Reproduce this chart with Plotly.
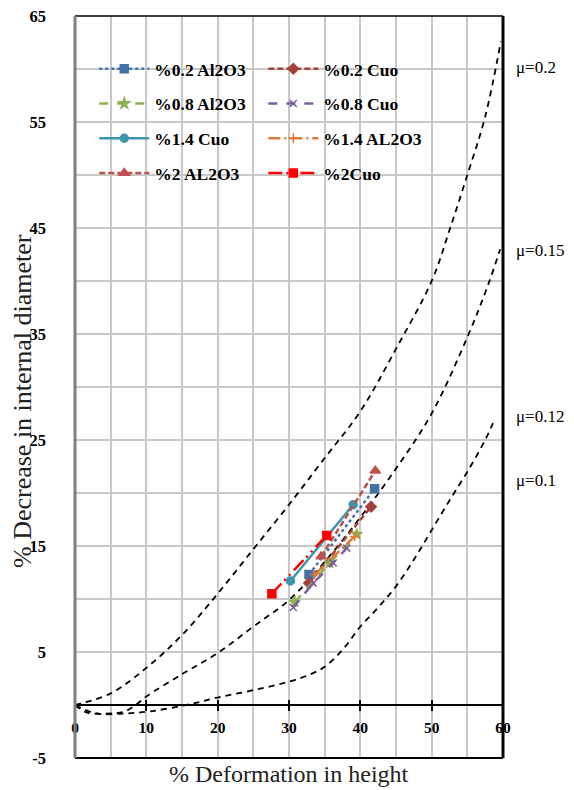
import plotly.graph_objects as go

# ---- friction (mu) reference curves ----
mu02_x = [0, 5, 10, 15, 20, 25, 30, 35, 40, 45, 50, 52.5, 55, 57.5, 59.7]
mu02_y = [0, 1.1, 3.5, 6.6, 10.5, 14.7, 18.9, 23.3, 27.7, 33.6, 40.0, 44.8, 50.0, 55.5, 62.6]

mu015_x = [0, 1.6, 5, 7, 8.5, 10, 15, 20, 25, 30, 35, 40, 45, 50, 55, 58, 59.6]
mu015_y = [0, -0.7, -0.8, -0.6, 0, 0.8, 2.9, 4.9, 7.4, 9.9, 13.5, 17.7, 22.3, 27.5, 34.7, 39.8, 43.0]

mu012_x = [0, 3, 7, 10.5, 15.6, 20, 25, 30, 33, 35, 37.5, 40, 42.5, 45, 47.5, 50, 52.5, 55, 57.5, 58.6]
mu012_y = [0, -0.8, -0.8, -0.6, 0, 0.7, 1.4, 2.2, 2.9, 3.6, 5.2, 7.4, 9.2, 11.2, 13.7, 16.5, 19.3, 22.0, 25.0, 26.6]

mu_labels = ["μ=0.2", "μ=0.15", "μ=0.12", "μ=0.1"]
mu_label_y = [60.1, 42.9, 27.2, 21.2]

# ---- experimental series ----
s_02al_x = [32.8, 42.0]
s_02al_y = [12.3, 20.4]
s_02cu_x = [32.8, 41.5]
s_02cu_y = [11.5, 18.7]
s_08al_x = [30.8, 35.7, 39.5]
s_08al_y = [9.7, 13.4, 16.1]
s_08cu_x = [30.6, 33.4, 36.2, 38.1]
s_08cu_y = [9.2, 11.5, 13.4, 14.8]
s_14cu_x = [30.2, 39.0]
s_14cu_y = [11.7, 18.9]
s_14al_x = [33.6, 39.2]
s_14al_y = [12.3, 15.9]
s_2al_x = [34.5, 42.1]
s_2al_y = [14.0, 22.1]
s_2cu_x = [27.6, 35.3]
s_2cu_y = [10.5, 16.0]

x_ticks = [0, 10, 20, 30, 40, 50, 60]
y_ticks = [-5, 5, 15, 25, 35, 45, 55, 65]

SERIF = "Liberation Serif"
fig = go.Figure()

for cx, cy in [(mu02_x, mu02_y), (mu015_x, mu015_y), (mu012_x, mu012_y)]:
    fig.add_trace(go.Scatter(x=cx, y=cy, mode="lines", line=dict(color="black", width=1.8, dash="6px,5px"),
                             line_shape="spline", showlegend=False, hoverinfo="skip"))

series = [
    ("%0.2 Al2O3", s_02al_x, s_02al_y, "#4472A8", "dot", "square", 8, "legend"),
    ("%0.2 Cuo", s_02cu_x, s_02cu_y, "#A5403C", "6px,3px", "diamond", 8, "legend2"),
    ("%0.8 Al2O3", s_08al_x, s_08al_y, "#8FB04E", "9px,9px", "star", 8, "legend"),
    ("%0.8 Cuo", s_08cu_x, s_08cu_y, "#7B5EA0", "9px,9px", "x-thin-open", 7, "legend2"),
    ("%1.4 Cuo", s_14cu_x, s_14cu_y, "#3C96AE", "solid", "circle", 8, "legend"),
    ("%1.4 AL2O3", s_14al_x, s_14al_y, "#E07B35", "12px,4px,2px,4px", "cross-thin-open", 7, "legend2"),
    ("%2 AL2O3", s_2al_x, s_2al_y, "#C0504D", "6px,3px", "triangle-up", 9, "legend"),
    ("%2Cuo", s_2cu_x, s_2cu_y, "#FF0000", "14px,4px,2px,5px,2px,5px", "square", 8, "legend2"),
]
for i, (name, sx, sy, col, dash, sym, msz, lg) in enumerate(series):
    fig.add_trace(go.Scatter(
        x=sx, y=sy, mode="lines+markers", name=name, legend=lg, legendgroup=name,
        line=dict(color=col, width=2.5, dash=dash),
        marker=dict(symbol=sym, size=msz, color=col, line=dict(color=col, width=1.5)),
    ))

for lab, ly in zip(mu_labels, mu_label_y):
    fig.add_annotation(x=1.025, xref="paper", y=ly, yref="y", text=lab, showarrow=False,
                       xanchor="left", yanchor="middle", font=dict(family=SERIF, size=17, color="black"))

fig.add_annotation(x=0.5, xref="paper", y=-0.022, yref="paper", text="% Deformation in height", showarrow=False,
                   xanchor="center", yanchor="middle", font=dict(family=SERIF, size=24, color="#222"))
fig.add_annotation(x=-0.124, xref="paper", y=0.481, yref="paper", text="% Decrease in internal diameter", showarrow=False,
                   textangle=-90, xanchor="center", yanchor="middle", font=dict(family=SERIF, size=26, color="#222"))

# plot border
fig.add_shape(type="line", xref="paper", yref="paper", x0=0, x1=1, y0=1, y1=1, line=dict(color="black", width=1.5))
fig.add_shape(type="line", xref="paper", yref="paper", x0=1, x1=1, y0=0, y1=1, line=dict(color="black", width=3))
fig.add_shape(type="line", xref="paper", yref="paper", x0=0, x1=1, y0=0, y1=0, line=dict(color="black", width=2))
fig.add_shape(type="line", xref="paper", yref="paper", x0=0, x1=0, y0=0, y1=1, line=dict(color="#7F7F7F", width=3))

grid = "#C8C8C8"
legfont = dict(family=SERIF, size=17.5, color="black", weight="bold")
# the page body has an 8px default margin, so the figure is sized 8px smaller
fig.update_layout(
    width=566, height=782, paper_bgcolor="white", plot_bgcolor="white",
    margin=dict(l=67, r=71, t=8, b=32, autoexpand=False),
    xaxis=dict(range=[0, 60], tickvals=x_ticks, ticktext=[str(v) for v in x_ticks], automargin=False,
               anchor="free", position=5 / 70, showline=True, linecolor="black", linewidth=1.5,
               ticks="outside", ticklen=5, tickwidth=1.5, tickcolor="black", ticklabelstandoff=4,
               ticklabeloverflow="allow",
               showgrid=True, gridcolor=grid, gridwidth=1.5, zeroline=False,
               minor=dict(dtick=5, tick0=0, showgrid=True, gridcolor=grid, gridwidth=1.5),
               tickfont=dict(family=SERIF, size=15.5, color="black", weight="bold")),
    xaxis2=dict(range=[0, 60], overlaying="x", anchor="free", position=5 / 70, tickvals=x_ticks,
                showticklabels=False, ticks="inside", ticklen=5, tickwidth=1.5, tickcolor="black",
                showgrid=False, showline=False, zeroline=False, automargin=False),
    yaxis=dict(range=[-5, 65], tickvals=y_ticks, ticktext=[str(v) for v in y_ticks], automargin=False,
               showgrid=True, gridcolor=grid, gridwidth=1.5, zeroline=False, showline=False,
               minor=dict(dtick=5, tick0=0, showgrid=True, gridcolor=grid, gridwidth=1.5),
               ticks="", ticklabelstandoff=28, ticklabeloverflow="allow",
               tickfont=dict(family=SERIF, size=16.5, color="black", weight="bold")),
    legend=dict(x=0.045, y=0.953, xanchor="left", yanchor="top", bgcolor="rgba(0,0,0,0)",
                itemwidth=50, tracegroupgap=9, font=legfont),
    legend2=dict(x=0.44, y=0.953, xanchor="left", yanchor="top", bgcolor="rgba(0,0,0,0)",
                 itemwidth=50, tracegroupgap=9, font=legfont),
    showlegend=True,
)
fig.add_trace(go.Scatter(x=[None], y=[None], xaxis="x2", showlegend=False, hoverinfo="skip"))

fig.write_html("out.html")
